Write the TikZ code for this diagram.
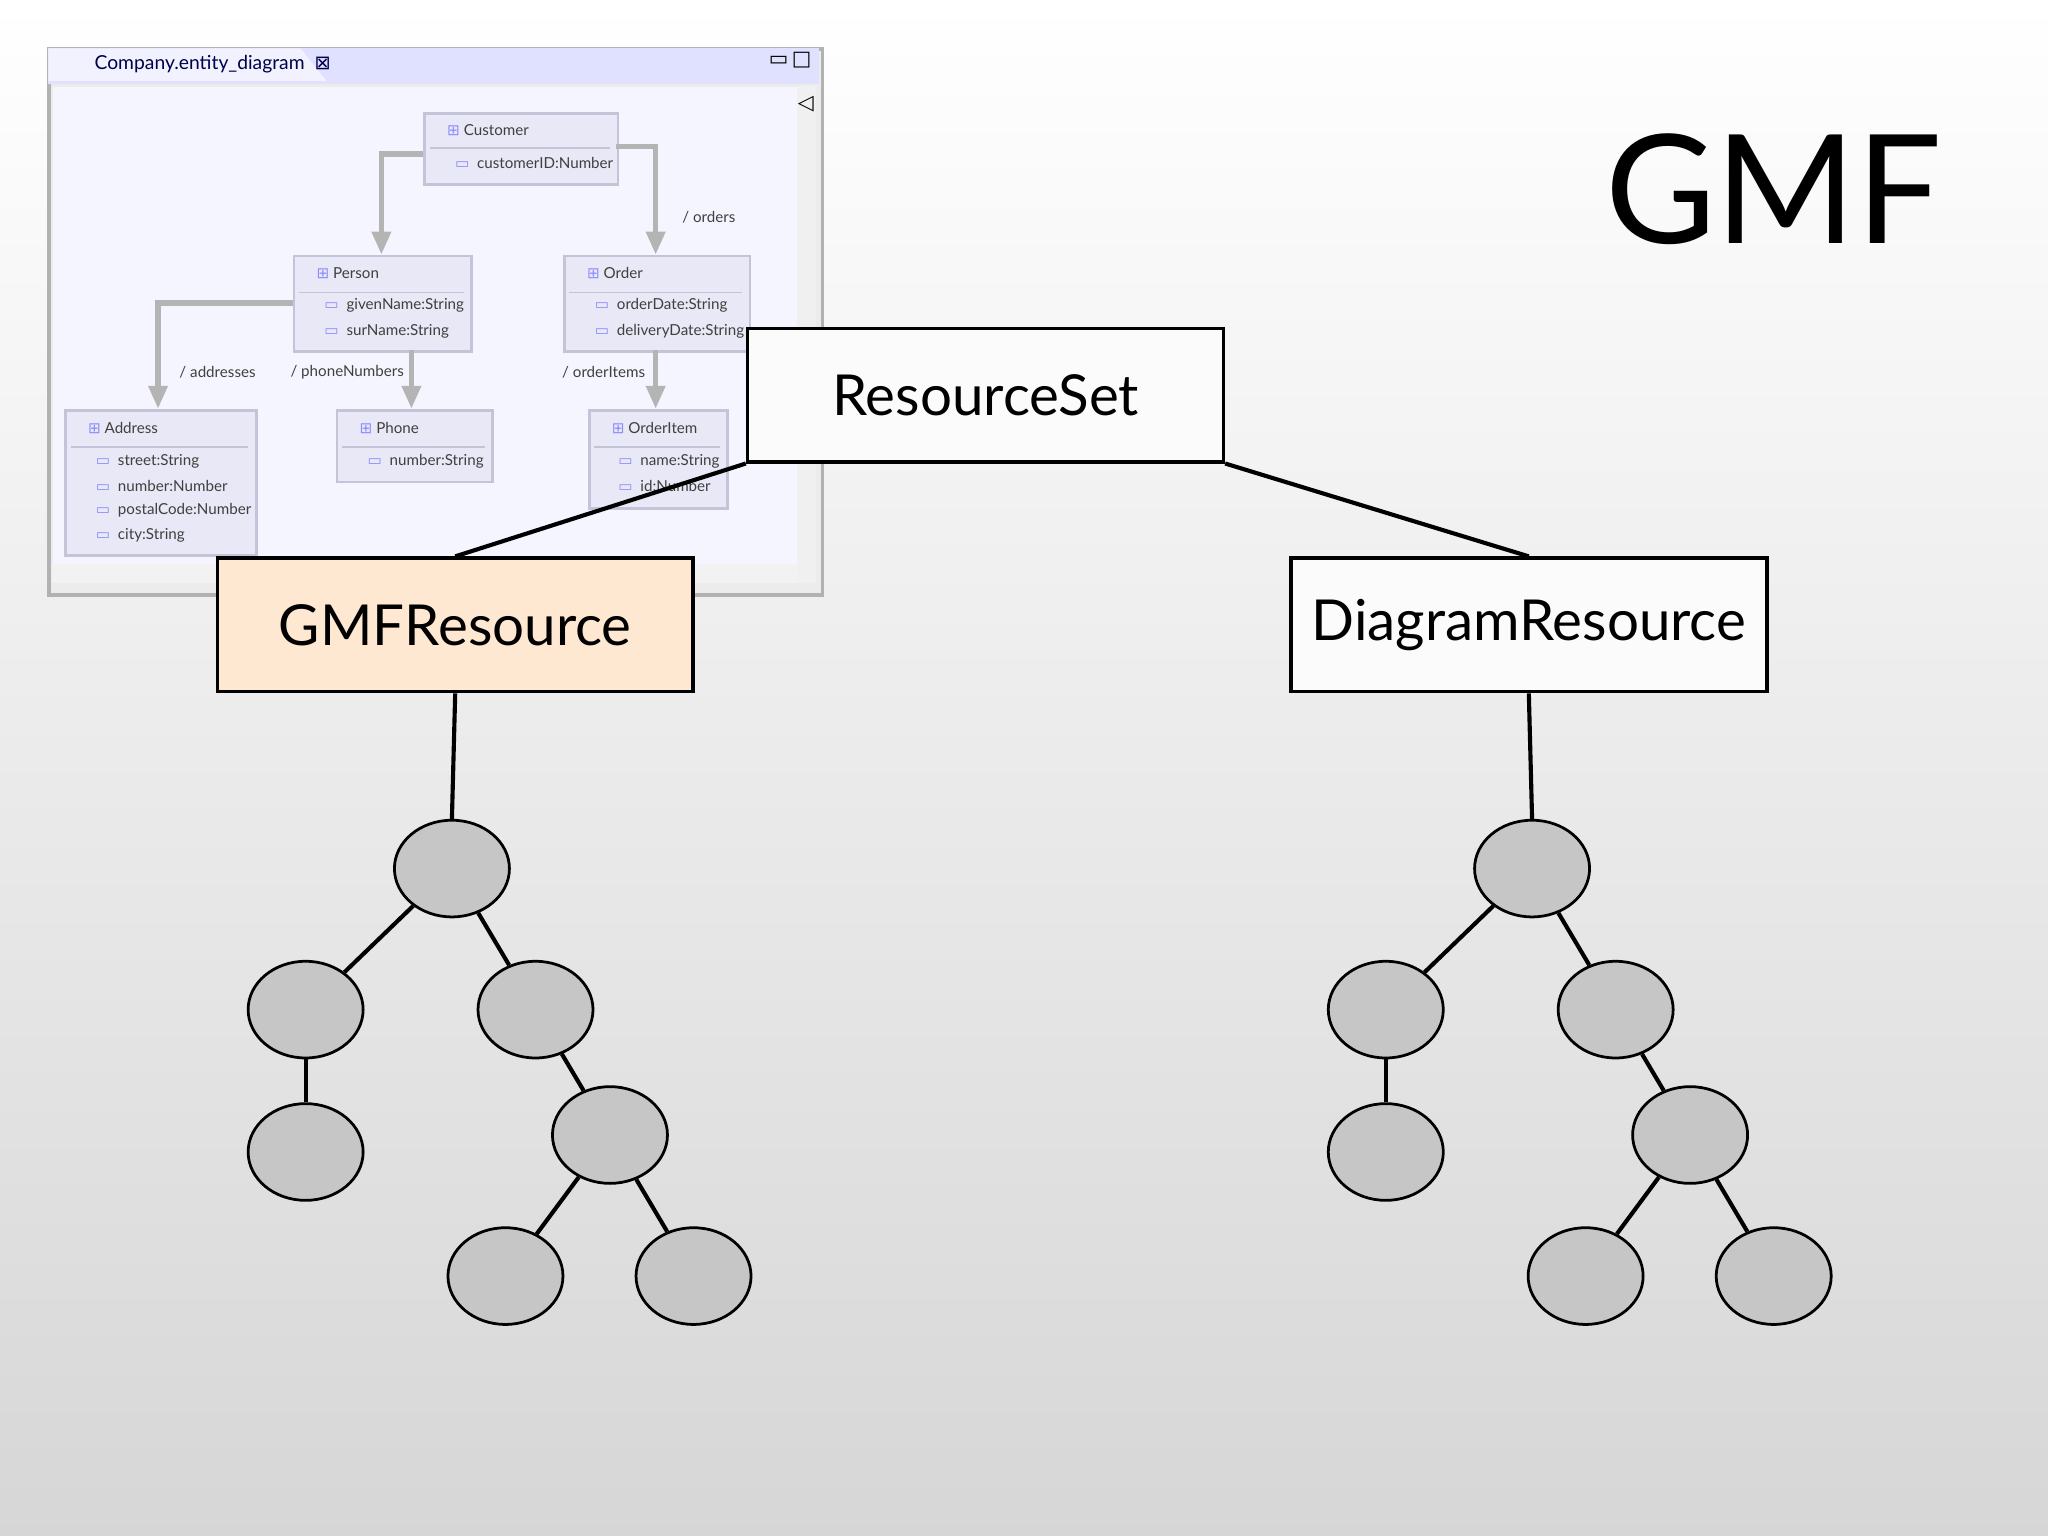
\documentclass[tikz,border=0pt]{standalone}
\usepackage{fontspec}
\setmainfont{Lato}
\newfontfamily\sym{DejaVu Sans}
\usetikzlibrary{shapes.geometric,arrows.meta}
\definecolor{cls}{HTML}{E8E8F6}
\definecolor{clsb}{HTML}{C4C4D8}
\definecolor{gr}{HTML}{B4B4B4}
\newcommand\cico{{\sym\color{blue!45}⊞}}
\newcommand\aico{{\sym\color{blue!45}▭}}
\begin{document}
\begin{tikzpicture}[x=0.01cm,y=-0.01cm,
 big/.style={draw=black,line width=0.8pt,fill=white!97!gray,minimum width=3.64cm,minimum height=1.02cm,anchor=north west,inner sep=0},
 bt/.style={font=\fontsize{12.3}{15}\selectfont},
 tn/.style={ellipse,draw=black,line width=0.6pt,fill=gray!45,minimum width=0.88cm,minimum height=0.74cm,inner sep=0},
 te/.style={line width=0.9pt},
 cb/.style={draw=clsb,fill=cls,anchor=north west,inner sep=0,line width=0.6pt},
 ct/.style={font=\fontsize{3.3}{4}\selectfont,anchor=west,text=black!75},
 ca/.style={gr,line width=1.2pt,-{Triangle[length=5pt,width=4pt]}},
 lb/.style={font=\fontsize{3.3}{4}\selectfont,text=black!75,anchor=west}]
\shade[top color=white,bottom color=gray!32] (0,0) rectangle (1568,1176);
\useasboundingbox (0,0) rectangle (1568,1176);
% screenshot window
\node[draw=gray!60,fill=gray!15,anchor=north west,minimum width=5.92cm,minimum height=4.18cm,inner sep=0,line width=0.8pt] (win) at (36,36) {};
\fill[blue!12] (37,37) rectangle (627,64);
\fill[white!95!blue] (37,37) -- (230,37) -- (250,62) -- (37,62) -- cycle;
\node[font=\fontsize{4.2}{6}\selectfont,anchor=west,text=blue!30!black] (tab) at (60,49) {Company.entity\_diagram\ \ {\sym ⊠}};
\node[font=\fontsize{4.5}{6}\selectfont\sym,anchor=center] (ctl) at (605,46) {▭\,□};
\node[fill=white!96!blue,anchor=north west,minimum width=5.70cm,minimum height=3.72cm,inner sep=0] (canvas) at (40,66) {};
\fill[gray!10] (40,432) rectangle (610,446);
\fill[gray!12] (610,66) rectangle (625,446);
\node[font=\fontsize{4.5}{6}\selectfont\sym] (arr) at (617,80) {◁};
% classes
\node[cb,minimum width=1.48cm,minimum height=0.54cm] (cust) at (324,86) {};
\node[cb,minimum width=1.36cm,minimum height=0.73cm] (pers) at (224,195) {};
\node[cb,minimum width=1.42cm,minimum height=0.73cm] (ord) at (431,195) {};
\node[cb,minimum width=1.46cm,minimum height=1.11cm] (addr) at (49,313) {};
\node[cb,minimum width=1.19cm,minimum height=0.55cm] (phone) at (257,313) {};
\node[cb,minimum width=1.06cm,minimum height=0.75cm] (oi) at (450,313) {};
\foreach \x/\y/\w in {329/113/138,229/224/126,436/224/132,54/342/136,262/342/109,455/342/96}
  \draw[clsb] (\x,\y) -- ++(\w,0);
\node[ct] (t1) at (330,100) {\cico\ Customer};
\node[ct] (t2) at (336,125) {\aico\ \ customerID:Number};
\node[ct] (t3) at (230,209) {\cico\ Person};
\node[ct] (t4) at (236,234) {\aico\ \ givenName:String};
\node[ct] (t5) at (236,254) {\aico\ \ surName:String};
\node[ct] (t6) at (437,209) {\cico\ Order};
\node[ct] (t7) at (443,234) {\aico\ \ orderDate:String};
\node[ct] (t8) at (443,254) {\aico\ \ deliveryDate:String};
\node[ct] (t9) at (55,328) {\cico\ Address};
\node[ct] (t10) at (61,353) {\aico\ \ street:String};
\node[ct] (t11) at (61,372) {\aico\ \ number:Number};
\node[ct] (t12) at (61,391) {\aico\ \ postalCode:Number};
\node[ct] (t13) at (61,410) {\aico\ \ city:String};
\node[ct] (t14) at (263,328) {\cico\ Phone};
\node[ct] (t15) at (269,353) {\aico\ \ number:String};
\node[ct] (t16) at (456,328) {\cico\ OrderItem};
\node[ct] (t17) at (461,353) {\aico\ \ name:String};
\node[ct] (t18) at (461,372) {\aico\ \ id:Number};
\draw[ca] (324,118) -- (292,118) -- (292,195);
\draw[ca] (472,112) -- (502,112) -- (502,195);
\draw[ca] (224,232) -- (121,232) -- (121,313);
\draw[ca] (315,268) -- (315,313);
\draw[ca] (502,268) -- (502,313);
\node[lb] (l1) at (510,166) {/\ orders};
\node[lb] (l2) at (125,285) {/\ addresses};
\node[lb] (l3) at (210,285) {/\ phoneNumbers};
\node[lb] (l4) at (418,285) {/\ orderItems};
% main boxes
\node[big] (rs) at (571,250) {};
\node[bt] (rst) at (rs.center) {ResourceSet};
\node[big,fill=orange!18!white] (gmf) at (165,426) {};
\node[bt] (gmft) at (gmf.center) {GMFResource};
\node[big] (dr) at (987,426) {};
\node[bt] (drt) at (dr.center) {DiagramResource};
\node[font=\fontsize{33}{40}\selectfont] (title) at (1358,145) {GMF};
\draw[te] (rs.south west) -- (gmf.north);
\draw[te] (rs.south east) -- (dr.north);
% trees
\foreach \p/\dx in {a/0,b/827}{
 \node[tn] (\p r) at (346+\dx,665) {};
 \node[tn] (\p 1) at (234+\dx,773) {};
 \node[tn] (\p 2) at (410+\dx,773) {};
 \node[tn] (\p 3) at (234+\dx,882) {};
 \node[tn] (\p 4) at (467+\dx,869) {};
 \node[tn] (\p 5) at (387+\dx,977) {};
 \node[tn] (\p 6) at (531+\dx,977) {};
 \draw[te] (\p r) -- (\p 1); \draw[te] (\p r) -- (\p 2);
 \draw[te] (\p 1) -- (\p 3); \draw[te] (\p 2) -- (\p 4);
 \draw[te] (\p 4) -- (\p 5); \draw[te] (\p 4) -- (\p 6);
}
\draw[te] (gmf.south) -- (ar.north);
\draw[te] (dr.south) -- (br.north);
\end{tikzpicture}
\end{document}
